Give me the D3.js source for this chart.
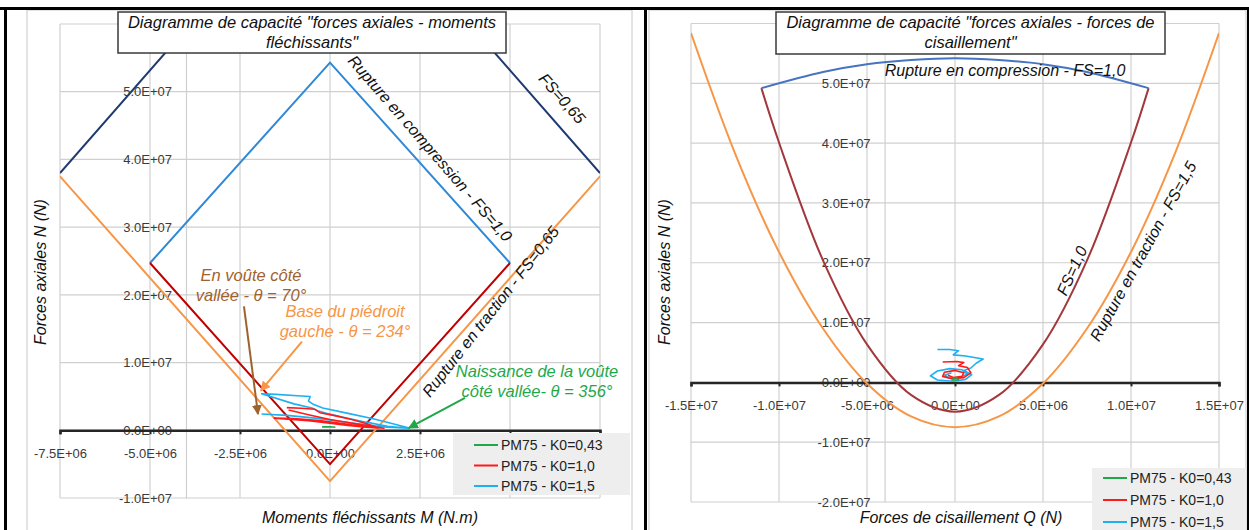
<!DOCTYPE html>
<html><head><meta charset="utf-8">
<script src="https://cdn.jsdelivr.net/npm/d3@7/dist/d3.min.js"></script>
<style>
body{margin:0;background:#fff;}
svg{display:block;}
text{font-family:"Liberation Sans",Arial,sans-serif;}
</style></head>
<body>
<svg id="c" width="1249" height="530"></svg>
<script>
// ---------- DATA ----------
const leftXTicks = [-7.5e6,-5e6,-2.5e6,0,2.5e6,5e6,7.5e6];
const leftYTicks = [-1e7,0,1e7,2e7,3e7,4e7,5e7,6e7];
const rightXTicks = [-1.5e7,-1e7,-5e6,0,5e6,1e7,1.5e7];
const rightYTicks = [-2e7,-1e7,0,1e7,2e7,3e7,4e7,5e7,6e7];
const legendNames = ["PM75 - K0=0,43","PM75 - K0=1,0","PM75 - K0=1,5"];

// Left chart: capacity envelopes (M [N.m], N [N])
const mnCompFS065 = [[-7.5e6,3.8e7],[0,8.35e7],[7.5e6,3.8e7]];
const mnCompFS10  = [[-5e6,2.47e7],[0,5.43e7],[5e6,2.47e7]];
const mnTracFS10  = [[-5e6,2.47e7],[0,-5.0e6],[5e6,2.47e7]];
const mnTracFS065 = [[-7.5e6,3.75e7],[0,-7.5e6],[7.5e6,3.75e7]];

// Left chart: PM75 results (M, N)
const mnK043 = [[-0.22e6,0.5e6],[0.0,0.52e6],[0.15e6,0.45e6]];
const mnK10 = [[-1.2e6,3.35e6],[-0.8e6,3.25e6],[-0.42e6,3.1e6],[-0.28e6,2.6e6],[0.1e6,2.2e6],[0.6e6,1.6e6],[1.0e6,1.0e6],[1.35e6,0.35e6],
  [1.0e6,0.45e6],[0.5e6,0.7e6],[0.05e6,1.0e6],[-0.6e6,1.4e6],[-1.55e6,1.8e6],[-1.0e6,1.75e6],[-0.3e6,1.45e6],[0.3e6,1.05e6],[0.9e6,0.6e6],[1.5e6,0.3e6],
  [0.8e6,0.9e6],[0.0e6,1.6e6],[-0.6e6,2.3e6],[-1.15e6,3.0e6]];
const mnK15 = [[-1.9e6,2.4e6],[-1.2e6,2.2e6],[-0.4e6,1.8e6],[0.3e6,1.3e6],[1.0e6,0.8e6],[1.6e6,0.45e6],[2.2e6,0.3e6],
  [1.6e6,0.6e6],[1.0e6,1.2e6],[0.4e6,1.9e6],[-0.1e6,2.5e6],[-0.35e6,2.9e6],[-0.5e6,3.3e6],[-1.0e6,3.9e6],[-1.9e6,5.4e6],
  [-1.5e6,5.3e6],[-0.9e6,5.1e6],[-0.55e6,5.0e6],[-0.6e6,4.3e6],[-0.45e6,3.8e6],[-0.2e6,3.3e6],[0.5e6,2.5e6],[1.2e6,1.7e6],[1.8e6,0.9e6],[2.2e6,0.35e6]];

// Right chart: capacity envelopes (Q [N], N [N])
const qnCompFS10 = [[-1.1e7,4.92e7],[-7.5e6,5.19e7],[-5e6,5.32e7],[-2.5e6,5.39e7],[0,5.42e7],[2.5e6,5.39e7],[5e6,5.32e7],[7.5e6,5.19e7],[1.1e7,4.92e7]];
const qnFS10 = [[-1.1e7,4.92e7],[-1e7,4.01e7],[-7.5e6,2.04e7],[-5e6,6.35e6],[-2.5e6,-2.1e6],[0,-4.9e6],[2.5e6,-2.1e6],[5e6,6.35e6],[7.5e6,2.04e7],[1e7,4.01e7],[1.1e7,4.92e7]];
const qnTracFS15 = [[-1.5e7,5.84e7],[-1.25e7,3.83e7],[-1e7,2.18e7],[-7.5e6,9.0e6],[-5e6,-0.2e6],[-2.5e6,-5.7e6],[0,-7.5e6],[2.5e6,-5.7e6],[5e6,-0.2e6],[7.5e6,9.0e6],[1e7,2.18e7],[1.25e7,3.83e7],[1.5e7,5.84e7]];

// Right chart: PM75 results (Q, N)
const qnK043 = [[-0.2e6,0.4e6],[0.2e6,0.45e6],[0.1e6,0.8e6],[-0.15e6,0.6e6]];
const qnK10 = [[-0.7e6,3.4e6],[0.1e6,3.5e6],[0.5e6,3.3e6],[0.2e6,2.8e6],[0.7e6,2.5e6],[0.9e6,1.6e6],[0.5e6,0.8e6],[-0.2e6,0.6e6],[-0.7e6,1.0e6],
  [-0.6e6,1.7e6],[0.0,2.0e6],[0.5e6,1.6e6],[0.4e6,1.0e6],[-0.1e6,0.8e6],[-0.4e6,1.2e6]];
const qnK15 = [[-1.0e6,5.5e6],[-0.3e6,5.5e6],[0.2e6,5.3e6],[-0.1e6,4.6e6],[0.6e6,4.4e6],[1.6e6,3.9e6],[1.2e6,3.2e6],[0.9e6,2.4e6],[0.5e6,2.0e6],
  [0.95e6,1.3e6],[0.6e6,0.5e6],[-0.1e6,0.2e6],[-1.0e6,0.4e6],[-1.4e6,1.1e6],[-1.0e6,1.9e6],[-0.3e6,2.3e6],[0.4e6,2.1e6],[0.7e6,1.4e6],
  [0.3e6,0.8e6],[-0.3e6,0.7e6],[-0.6e6,1.2e6],[-0.2e6,1.6e6]];

// Annotation arrows (data coords: from -> to)
const arrowBrown  = [[-2.39e6,1.83e7],[-2.0e6,2.4e6]];
const arrowOrange = [[-0.78e6,1.31e7],[-1.92e6,5.85e6]];
const arrowGreen  = [[3.75e6,4.77e6],[2.19e6,0.34e6]];

// ---------- STYLE ----------
const C = {navy:"#1f3a70", blue:"#2f89d6", dred:"#c00000", orange:"#f79646",
  green:"#1fa84a", red:"#ff1a1a", cyan:"#1eb0f0", arc:"#4674c1", brown:"#a3383c",
  grid:"#d0d0d0", tick:"#3a3a3a", ann:"#a0622d"};

function sci(v){
  if(v===0) return "0.0E+00";
  const e=Math.floor(Math.log10(Math.abs(v))+1e-9);
  const m=v/Math.pow(10,e);
  return m.toFixed(1)+"E"+(e<0?"-":"+")+String(Math.abs(e)).padStart(2,"0");
}

const svg=d3.select("#c");
const defs=svg.append("defs");
[["ab",C.ann],["ao",C.orange],["ag",C.green]].forEach(([id,col])=>{
  defs.append("marker").attr("id",id).attr("viewBox","0 0 10 10").attr("refX",9).attr("refY",5)
   .attr("markerWidth",5).attr("markerHeight",5).attr("orient","auto")
   .append("path").attr("d","M0,0L10,5L0,10z").attr("fill",col);
});

// frame
svg.append("rect").attr("x",0).attr("y",0).attr("width",1249).attr("height",530).attr("fill","#fff");
svg.append("rect").attr("x",27).attr("y",10).attr("width",605).attr("height",525).attr("fill","none").attr("stroke","#c8c8c8");
svg.append("rect").attr("x",649).attr("y",10).attr("width",597).attr("height",525).attr("fill","none").attr("stroke","#c8c8c8");
svg.append("line").attr("x1",0).attr("x2",1249).attr("y1",8.5).attr("y2",8.5).attr("stroke","#000").attr("stroke-width",3);
svg.append("line").attr("x1",5.5).attr("x2",5.5).attr("y1",7).attr("y2",530).attr("stroke","#000").attr("stroke-width",3);
svg.append("line").attr("x1",645.5).attr("x2",645.5).attr("y1",7).attr("y2",530).attr("stroke","#000").attr("stroke-width",3);
svg.append("line").attr("x1",1248).attr("x2",1248).attr("y1",7).attr("y2",530).attr("stroke","#000").attr("stroke-width",2);

function overlaps(b,r){return !(b.x+b.width<r.x||b.x>r.x+r.w||b.y+b.height<r.y||b.y>r.y+r.h);}

function chart(cfg){
  const g=svg.append("g");
  const x=cfg.x, y=cfg.y;
  const [x0,x1]=x.range(), [y0,y1]=y.range();
  const clipId="clip"+cfg.id;
  defs.append("clipPath").attr("id",clipId).append("rect")
    .attr("x",x0).attr("y",y1).attr("width",x1-x0).attr("height",y0-y1);
  // grid
  g.selectAll(".gx").data(cfg.xt).join("line").attr("x1",d=>x(d)).attr("x2",d=>x(d))
    .attr("y1",y0).attr("y2",y1).attr("stroke",C.grid).attr("stroke-width",1.2);
  g.selectAll(".gy").data(cfg.yt).join("line").attr("y1",d=>y(d)).attr("y2",d=>y(d))
    .attr("x1",x0).attr("x2",x1).attr("stroke",C.grid).attr("stroke-width",1.2);
  // y axis (crossing at -4e6)
  const ya=g.append("g").attr("transform",`translate(${x(cfg.yCross)},0)`)
    .call(d3.axisLeft(y).tickValues(cfg.yt).tickFormat(sci).tickSize(0).tickPadding(14));
  ya.select(".domain").attr("stroke",C.grid).attr("stroke-width",1.2);
  ya.selectAll("text").attr("font-size",13).attr("fill",C.tick).attr("font-family","Liberation Sans, Arial, sans-serif");
  // x axis at N=0
  const xa=g.append("g").attr("transform",`translate(0,${y(0)})`)
    .call(d3.axisBottom(x).tickValues(cfg.xt).tickFormat(sci).tickSize(4).tickPadding(14));
  xa.select(".domain").attr("stroke","#262626").attr("stroke-width",2.5);
  xa.selectAll(".tick line").attr("stroke","#262626").attr("stroke-width",2);
  xa.selectAll("text").attr("font-size",13).attr("fill",C.tick).attr("font-family","Liberation Sans, Arial, sans-serif");
  // hide tick labels covered by title box / legend (as in the original)
  const covers=[cfg.title,cfg.leg];
  g.selectAll(".tick text").each(function(){
    const b=this.getBBox(); const m=this.getCTM();
    const bb={x:b.x+m.e,y:b.y+m.f,width:b.width,height:b.height};
    if(covers.some(r=>overlaps(bb,r))) d3.select(this).remove();
  });
  // curves
  const pg=g.append("g").attr("clip-path",`url(#${clipId})`);
  cfg.curves.forEach(c=>{
    const ln=d3.line().x(d=>x(d[0])).y(d=>y(d[1])).curve(c.smooth?d3.curveCatmullRom:d3.curveLinear);
    pg.append("path").datum(c.data).attr("d",ln)
      .attr("fill","none").attr("stroke",c.color).attr("stroke-width",c.w||2).attr("stroke-linejoin","round");
  });
  const sl=d3.line().x(d=>x(d[0])).y(d=>y(d[1]));
  cfg.series.forEach(s=>{
    pg.append("path").datum(s.data).attr("d",sl).attr("fill","none")
      .attr("stroke",s.color).attr("stroke-width",1.6).attr("stroke-linejoin","round");
  });
  // legend
  const L=cfg.leg;
  const lg=g.append("g");
  lg.append("rect").attr("x",L.x).attr("y",L.y).attr("width",L.w).attr("height",L.h).attr("fill","#eeeeee");
  legendNames.forEach((n,i)=>{
    const yy=L.y+L.top+i*L.dy;
    lg.append("line").attr("x1",L.x+L.lx).attr("x2",L.x+L.lx+24).attr("y1",yy).attr("y2",yy)
      .attr("stroke",[C.green,C.red,C.cyan][i]).attr("stroke-width",2);
    lg.append("text").attr("x",L.x+L.lx+27).attr("y",yy+5).attr("font-size",14).attr("fill","#222").text(n);
  });
  // title box
  const tb=cfg.title;
  g.append("rect").attr("x",tb.x).attr("y",tb.y).attr("width",tb.w).attr("height",tb.h)
    .attr("fill","#fff").attr("stroke","#3a3a3a").attr("stroke-width",1.5);
  tb.lines.forEach((t,i)=>g.append("text").attr("x",tb.x+tb.w/2).attr("y",tb.y+16+i*20)
    .attr("text-anchor","middle").attr("font-size",16.5).attr("font-style","italic").attr("fill","#111").text(t));
  // axis titles
  g.append("text").attr("x",cfg.xTitle[0]).attr("y",cfg.xTitle[1]).attr("text-anchor","middle")
    .attr("font-size",16).attr("font-style","italic").attr("fill","#111").text(cfg.xTitle[2]);
  g.append("text").attr("transform",`translate(${cfg.yTitle[0]},${cfg.yTitle[1]}) rotate(-90)`).attr("text-anchor","middle")
    .attr("font-size",16).attr("font-style","italic").attr("fill","#111").text(cfg.yTitle[2]);
  return g;
}

// ---------- LEFT ----------
const xL=d3.scaleLinear([-7.5e6,7.5e6],[60,600]);
const yL=d3.scaleLinear([-1e7,6e7],[498,24]);
const gL=chart({id:"L",x:xL,y:yL,xt:leftXTicks,yt:leftYTicks,yCross:-4e6,
  curves:[{data:mnCompFS065,color:C.navy},{data:mnCompFS10,color:C.blue},{data:mnTracFS10,color:C.dred},{data:mnTracFS065,color:C.orange}],
  series:[{data:mnK15,color:C.cyan},{data:mnK10,color:C.red},{data:mnK043,color:C.green}],
  leg:{x:453,y:433,w:177,h:62,dy:20.5,top:12,lx:21},
  title:{x:118,y:12,w:388,h:41,lines:["Diagramme de capacité \"forces axiales - moments","fléchissants\""]},
  xTitle:[370,523,"Moments fléchissants M (N.m)"],
  yTitle:[46,272,"Forces axiales N (N)"]});

function rotText(g,x,y,ang,txt,col,size){
  g.append("text").attr("transform",`translate(${x},${y}) rotate(${ang})`).attr("text-anchor","middle")
   .attr("font-size",size||16).attr("font-style","italic").attr("fill",col||"#111").text(txt);
}
rotText(gL,426,152,49,"Rupture en compression - FS=1,0");
rotText(gL,558,102,48.5,"FS=0,65");
rotText(gL,495,315,-52,"Rupture en traction - FS=0,65");

function multi(g,x,y,lines,col){
  lines.forEach((t,i)=>g.append("text").attr("x",x).attr("y",y+i*19.5).attr("text-anchor","middle")
    .attr("font-size",16.5).attr("font-style","italic").attr("fill",col).text(t));
}
multi(gL,251,281,["En voûte côté","vallée - θ = 70°"],C.ann);
multi(gL,345,317,["Base du piédroit","gauche - θ = 234°"],C.orange);
multi(gL,537,377,["Naissance de la voûte","côté vallée- θ = 356°"],C.green);

function arrow(g,pts,col,mk,x,y){
  g.append("line").attr("x1",x(pts[0][0])).attr("y1",y(pts[0][1])).attr("x2",x(pts[1][0])).attr("y2",y(pts[1][1]))
   .attr("stroke",col).attr("stroke-width",2).attr("marker-end",`url(#${mk})`);
}
arrow(gL,arrowBrown,C.ann,"ab",xL,yL);
arrow(gL,arrowOrange,C.orange,"ao",xL,yL);
arrow(gL,arrowGreen,C.green,"ag",xL,yL);

// ---------- RIGHT ----------
const xR=d3.scaleLinear([-1.5e7,1.5e7],[691,1219]);
const yR=d3.scaleLinear([-2e7,6e7],[502,23.5]);
const gR=chart({id:"R",x:xR,y:yR,xt:rightXTicks,yt:rightYTicks,yCross:-4e6,
  curves:[{data:qnTracFS15,color:C.orange,smooth:true},{data:qnFS10,color:C.brown,smooth:true},{data:qnCompFS10,color:C.arc,smooth:true}],
  series:[{data:qnK15,color:C.cyan},{data:qnK10,color:C.red},{data:qnK043,color:C.green}],
  leg:{x:1092,y:468,w:154,h:62,dy:22,top:10,lx:11},
  title:{x:776,y:12,w:389,h:42,lines:["Diagramme de capacité \"forces axiales - forces de","cisaillement\""]},
  xTitle:[961,523,"Forces de cisaillement Q (N)"],
  yTitle:[670,272,"Forces axiales N (N)"]});
gR.append("text").attr("x",1005).attr("y",76).attr("text-anchor","middle").attr("font-size",16)
  .attr("font-style","italic").attr("fill","#111").text("Rupture en compression - FS=1,0");
rotText(gR,1077,273,-65.5,"FS=1,0");
rotText(gR,1148,254,-61,"Rupture en traction - FS=1,5");
</script>
</body></html>
